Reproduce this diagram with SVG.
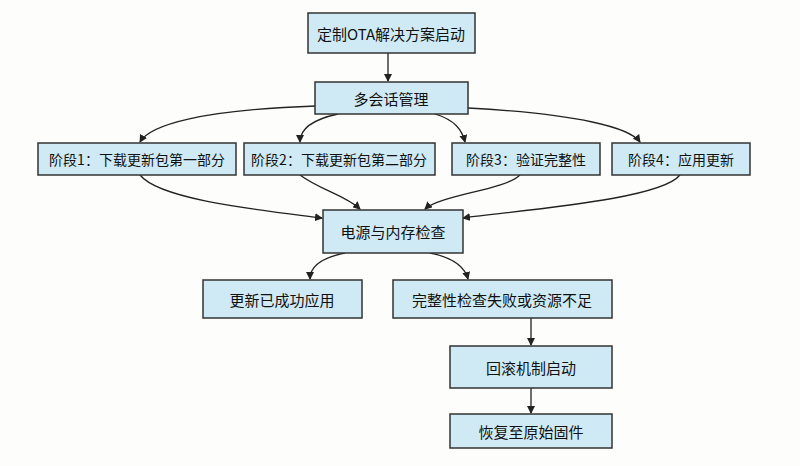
<svg xmlns="http://www.w3.org/2000/svg" width="800" height="466" viewBox="0 0 800 466">
<defs><marker id="a" markerWidth="8" markerHeight="8" refX="7" refY="4" orient="auto" markerUnits="userSpaceOnUse"><path d="M0,0 L8,4 L0,8 z" fill="#222"/></marker>
<style>rect{fill:#cfeaf5;stroke:#333;stroke-width:1.5}text{font-family:"Noto Sans CJK SC",sans-serif;font-size:15px;fill:#111;text-anchor:middle;dominant-baseline:central}.s{font-size:14px}.c path{fill:none;stroke:#222;stroke-width:1.3;marker-end:url(#a)}</style></defs>
<rect x="0" y="0" width="800" height="466" style="fill:#fdfdfb;stroke:none"/>
<g class="c">
<path d="M388,53 V81"/>
<path d="M316,106 C200,110 150,125 140,142"/>
<path d="M338,114 C310,120 300,130 300,142"/>
<path d="M435,114 C455,120 462,130 465,142"/>
<path d="M468,108 C580,114 630,128 640,142"/>
<path d="M140,175 C160,200 260,210 322,218"/>
<path d="M300,175 C320,190 345,195 360,209"/>
<path d="M520,175 C505,190 440,195 425,209"/>
<path d="M680,175 C660,200 520,210 463,218"/>
<path d="M345,253 C320,258 310,268 310,279"/>
<path d="M430,253 C455,258 465,268 468,279"/>
<path d="M531,318 V345"/>
<path d="M531,388 V413"/>
</g>
<g id="n1"><rect x="308" y="13" width="167" height="40"/><text x="391" y="33">定制OTA解决方案启动</text></g>
<g id="n2"><rect x="315" y="82" width="153" height="32"/><text x="391" y="98">多会话管理</text></g>
<g id="n3"><rect x="38" y="143" width="198" height="32"/><text class="s" x="137" y="159">阶段1：下载更新包第一部分</text></g>
<g id="n4"><rect x="244" y="143" width="191" height="32"/><text class="s" x="339" y="159">阶段2：下载更新包第二部分</text></g>
<g id="n5"><rect x="452" y="143" width="148" height="32"/><text class="s" x="526" y="159">阶段3：验证完整性</text></g>
<g id="n6"><rect x="612" y="143" width="138" height="32"/><text class="s" x="681" y="159">阶段4：应用更新</text></g>
<g id="n7"><rect x="323" y="210" width="140" height="43"/><text x="393" y="231">电源与内存检查</text></g>
<g id="n8"><rect x="203" y="280" width="159" height="38"/><text x="282" y="299">更新已成功应用</text></g>
<g id="n9"><rect x="393" y="280" width="219" height="38"/><text x="502" y="299">完整性检查失败或资源不足</text></g>
<g id="n10"><rect x="450" y="346" width="162" height="42"/><text x="531" y="367">回滚机制启动</text></g>
<g id="n11"><rect x="450" y="414" width="162" height="34"/><text x="531" y="431">恢复至原始固件</text></g>
</svg>
